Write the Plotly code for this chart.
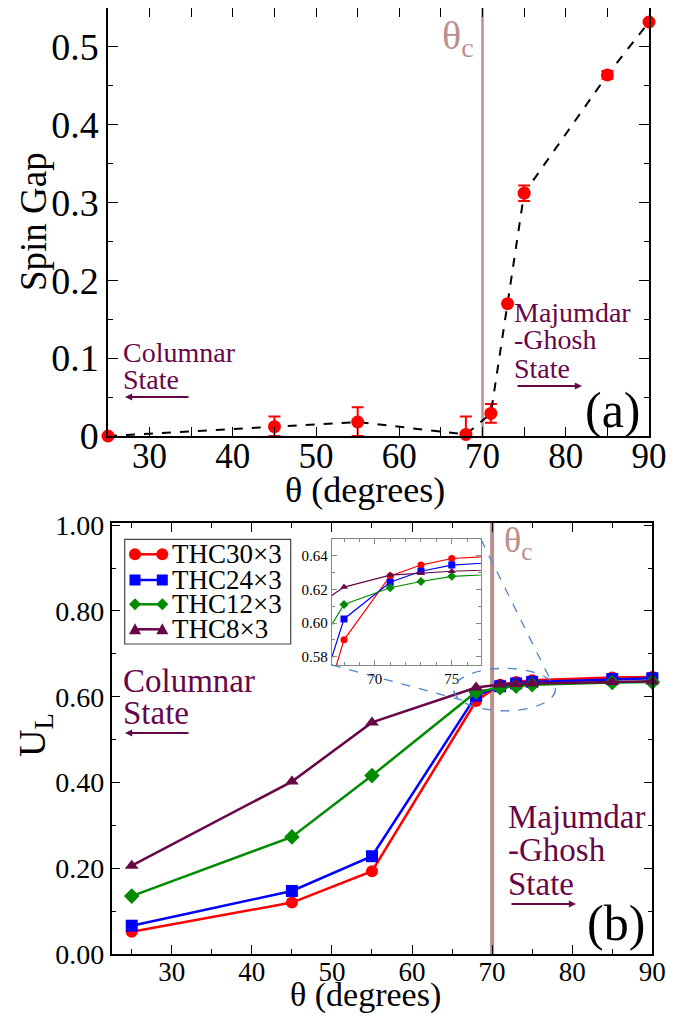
import plotly.graph_objects as go

# ---------------- data ----------------
theta = [25, 45, 55, 68, 71, 73, 75, 85, 90]

spin_gap = [0.0, 0.012, 0.018, 0.002, 0.029, 0.170, 0.312, 0.464, 0.532]
gap_err_plus = [0.0, 0.013, 0.019, 0.023, 0.012, 0.0, 0.010, 0.005, 0.0]
gap_err_minus = [0.0, 0.012, 0.018, 0.002, 0.012, 0.0, 0.010, 0.005, 0.0]

ul_thc30 = [0.052, 0.120, 0.193, 0.590, 0.6280, 0.6345, 0.6384, 0.645, 0.646]
ul_thc24 = [0.066, 0.147, 0.228, 0.6024, 0.6243, 0.6308, 0.6345, 0.641, 0.643]
ul_thc12 = [0.135, 0.273, 0.416, 0.611, 0.621, 0.6247, 0.6278, 0.633, 0.634]
ul_thc8 = [0.206, 0.402, 0.540, 0.6214, 0.6285, 0.6296, 0.6308, 0.634, 0.636]

series_names = ["THC30×3", "THC24×3", "THC12×3", "THC8×3"]
series_values = [ul_thc30, ul_thc24, ul_thc12, ul_thc8]
series_colors = ["#ff0000", "#0000ff", "#008b00", "#670748"]
series_symbols = ["circle", "square", "diamond", "triangle-up"]

theta_c = 70
top_yticks = [0, 0.1, 0.2, 0.3, 0.4, 0.5]
top_yticklabels = ["0", "0.1", "0.2", "0.3", "0.4", "0.5"]

FONT = "Times New Roman, Liberation Serif, serif"
PURPLE = "#670748"
ROSY = "#bc8f8f"
# the page body keeps its default 8px margin, so the figure is drawn 8px in
OFF = 8
W, H = 686 - OFF, 1016 - OFF

def px(x):
    return min(1.0, max(0.0, (x - OFF) / W))

def py(y):
    return min(1.0, max(0.0, 1 - (y - OFF) / H))

fig = go.Figure()

# ---- top panel ----
fig.add_trace(go.Scatter(
    x=theta, y=spin_gap, mode="lines+markers",
    line=dict(color="black", width=2, dash="dash"),
    marker=dict(color="#ff0000", size=13, symbol="circle"),
    error_y=dict(type="data", array=gap_err_plus, arrayminus=gap_err_minus,
                 color="#ff0000", thickness=2, width=6),
    xaxis="x", yaxis="y", showlegend=False, cliponaxis=False))

# ---- bottom panel ----
for name, vals, col, sym in zip(series_names, series_values, series_colors, series_symbols):
    fig.add_trace(go.Scatter(
        x=theta, y=vals, mode="lines+markers", name=name,
        line=dict(color=col, width=2.5),
        marker=dict(color=col, size=12, symbol=sym),
        xaxis="x2", yaxis="y2", cliponaxis=False, showlegend=False))

# ---- inset ----
for name, vals, col, sym in zip(series_names, series_values, series_colors, series_symbols):
    fig.add_trace(go.Scatter(
        x=theta, y=vals, mode="lines+markers", name=name,
        line=dict(color=col, width=1.2),
        marker=dict(color=col, size=7, symbol=sym),
        xaxis="x3", yaxis="y3", showlegend=False))

axis_common = dict(showline=True, linecolor="black", linewidth=1.5, mirror="allticks",
                   ticks="inside", tickcolor="black", tickwidth=1.2, showgrid=False,
                   zeroline=False, automargin=False)
inset_common = dict(showline=True, linecolor="#888", linewidth=1, mirror="allticks",
                    ticks="inside", tickcolor="#888", tickwidth=1, showgrid=False,
                    zeroline=False, automargin=False)

fig.update_layout(
    width=W, height=H, margin=dict(l=0, r=0, t=0, b=0, pad=0, autoexpand=False),
    paper_bgcolor="white", plot_bgcolor="white",
    font=dict(family=FONT, color="black"),
    showlegend=False,
    xaxis=dict(domain=[px(108), px(649)], anchor="y", range=[25, 90],
               tickvals=[30, 40, 50, 60, 70, 80, 90], ticklen=9,
               minor=dict(dtick=5, tick0=0, ticks="inside", ticklen=9, tickcolor="black"),
               tickfont=dict(size=35, family=FONT), ticklabelstandoff=-12,
               **axis_common),
    yaxis=dict(domain=[py(436), py(8)], anchor="x", range=[0, 0.55],
               tickvals=top_yticks, ticktext=top_yticklabels, ticklen=10,
               minor=dict(dtick=0.05, tick0=0, ticks="inside", ticklen=5, tickcolor="black"),
               tickfont=dict(size=38, family=FONT),
               **axis_common),
    xaxis2=dict(domain=[px(111.7), px(652.3)], anchor="y2", range=[22.5, 90],
                tickvals=[30, 40, 50, 60, 70, 80, 90], ticklen=9,
                minor=dict(dtick=5, tick0=0, ticks="inside", ticklen=5, tickcolor="black"),
                tickfont=dict(size=27, family=FONT), ticklabelstandoff=-7,
                **axis_common),
    yaxis2=dict(domain=[py(954), py(523)], anchor="x2", range=[0, 1.005],
                tickvals=[0, 0.2, 0.4, 0.6, 0.8, 1.0], tickformat=".2f", ticklen=9,
                minor=dict(dtick=0.1, tick0=0, ticks="inside", ticklen=5, tickcolor="black"),
                tickfont=dict(size=28, family=FONT),
                **axis_common),
    xaxis3=dict(domain=[px(331.7), px(481)], anchor="y3", range=[67.2, 76.9],
                tickvals=[70, 75], ticklen=5,
                minor=dict(dtick=1, tick0=0, ticks="inside", ticklen=3, tickcolor="#888"),
                tickfont=dict(size=15, family=FONT), **inset_common),
    yaxis3=dict(domain=[py(665), py(539)], anchor="x3", range=[0.575, 0.65],
                tickvals=[0.58, 0.60, 0.62, 0.64], tickformat=".2f", ticklen=5,
                minor=dict(dtick=0.01, tick0=0, ticks="inside", ticklen=3, tickcolor="#888"),
                tickfont=dict(size=15, family=FONT), **inset_common),
)

# theta_c vertical lines
fig.add_shape(type="line", xref="x", yref="paper", x0=theta_c, x1=theta_c,
              y0=py(436), y1=py(8), line=dict(color=ROSY, width=2.5), layer="below")
fig.add_shape(type="line", xref="x2", yref="paper", x0=theta_c, x1=theta_c,
              y0=py(954), y1=py(523), line=dict(color=ROSY, width=4), layer="below")

# zoom ellipse and connector lines
BL = "#4f86c6"
fig.add_shape(type="circle", xref="x2", yref="y2", x0=65.2, x1=77.9, y0=0.567, y1=0.666,
              line=dict(color=BL, width=1.3, dash="dash"))
fig.add_shape(type="line", xref="x2", yref="y2", x0=68.6, y0=0.967, x1=77.4, y1=0.635,
              line=dict(color=BL, width=1.3, dash="dash"))
fig.add_shape(type="line", xref="x2", yref="y2", x0=50.0, y0=0.674, x1=67.6, y1=0.585,
              line=dict(color=BL, width=1.3, dash="dash"))


def label(text, x, y, size, color=PURPLE, xanchor="left", angle=0, yanchor="middle"):
    fig.add_annotation(text=text, xref="paper", yref="paper", x=px(x), y=py(y),
                       xanchor=xanchor, yanchor=yanchor, showarrow=False, textangle=angle,
                       font=dict(size=size, family=FONT, color=color))


def arrow(x_head, x_tail, y):
    fig.add_annotation(text="", xref="paper", yref="paper", x=px(x_head), y=py(y),
                       ax=x_tail - x_head, ay=0, showarrow=True, arrowhead=2,
                       arrowsize=0.8, arrowwidth=1.8, arrowcolor=PURPLE)


# axis titles
label("Spin Gap", 33, 222, 37, color="black", xanchor="center", angle=-90)
label("θ (degrees)", 365, 490, 36, color="black", xanchor="center")
label("U<sub>L</sub>", 35, 735, 38, color="black", xanchor="center", angle=-90)
label("θ (degrees)", 365, 1016, 34, color="black", xanchor="center", yanchor="bottom")

# top panel texts
label("Columnar", 121, 352, 28)
label("State", 121, 379.5, 28)
arrow(125, 190, 397)
label("Majumdar", 512, 312, 28)
label("-Ghosh", 512, 340, 28)
label("State", 512, 368, 28)
arrow(582, 516, 386)
label("(a)", 613, 410, 50, color="black", xanchor="center")
label("θ<sub>c</sub>", 440, 38, 40, color=ROSY)

# bottom panel texts
label("Columnar", 121, 681, 33)
label("State", 121, 712.5, 33)
arrow(125, 190, 733)
label("Majumdar", 506, 816.5, 33)
label("-Ghosh", 506, 850, 33)
label("State", 506, 883.5, 33)
arrow(576, 510, 904)
label("(b)", 616, 923, 50, color="black", xanchor="center")
label("θ<sub>c</sub>", 502, 542, 36, color=ROSY)

# ---- legend (box, keys and names) ----
fig.add_shape(type="rect", xref="paper", yref="paper", x0=px(124.7), x1=px(290.7),
              y0=py(644), y1=py(539.3), line=dict(color="#444", width=1.2), fillcolor="white",
              layer="above")
row_y = [554.3, 580, 604.3, 629.3]
k = 6  # half marker size in px
for name, col, sym, yy in zip(series_names, series_colors, series_symbols, row_y):
    fig.add_shape(type="line", xref="paper", yref="paper", x0=px(133), x1=px(164),
                  y0=py(yy), y1=py(yy), line=dict(color=col, width=2.5))
    for cx in (135, 162.3):
        if sym == "circle":
            fig.add_shape(type="circle", xref="paper", yref="paper",
                          x0=px(cx - k), x1=px(cx + k), y0=py(yy + k), y1=py(yy - k),
                          fillcolor=col, line=dict(color=col, width=0))
        elif sym == "square":
            fig.add_shape(type="rect", xref="paper", yref="paper",
                          x0=px(cx - k + 0.5), x1=px(cx + k - 0.5), y0=py(yy + k - 0.5), y1=py(yy - k + 0.5),
                          fillcolor=col, line=dict(color=col, width=0))
        elif sym == "diamond":
            path = (f"M {px(cx - k)} {py(yy)} L {px(cx)} {py(yy - k)} "
                    f"L {px(cx + k)} {py(yy)} L {px(cx)} {py(yy + k)} Z")
            fig.add_shape(type="path", xref="paper", yref="paper", path=path,
                          fillcolor=col, line=dict(color=col, width=0))
        else:
            path = (f"M {px(cx - k)} {py(yy + k - 1)} L {px(cx)} {py(yy - k)} "
                    f"L {px(cx + k)} {py(yy + k - 1)} Z")
            fig.add_shape(type="path", xref="paper", yref="paper", path=path,
                          fillcolor=col, line=dict(color=col, width=0))
    label(name, 170, yy, 27, color="black")

fig.write_html("out.html")
